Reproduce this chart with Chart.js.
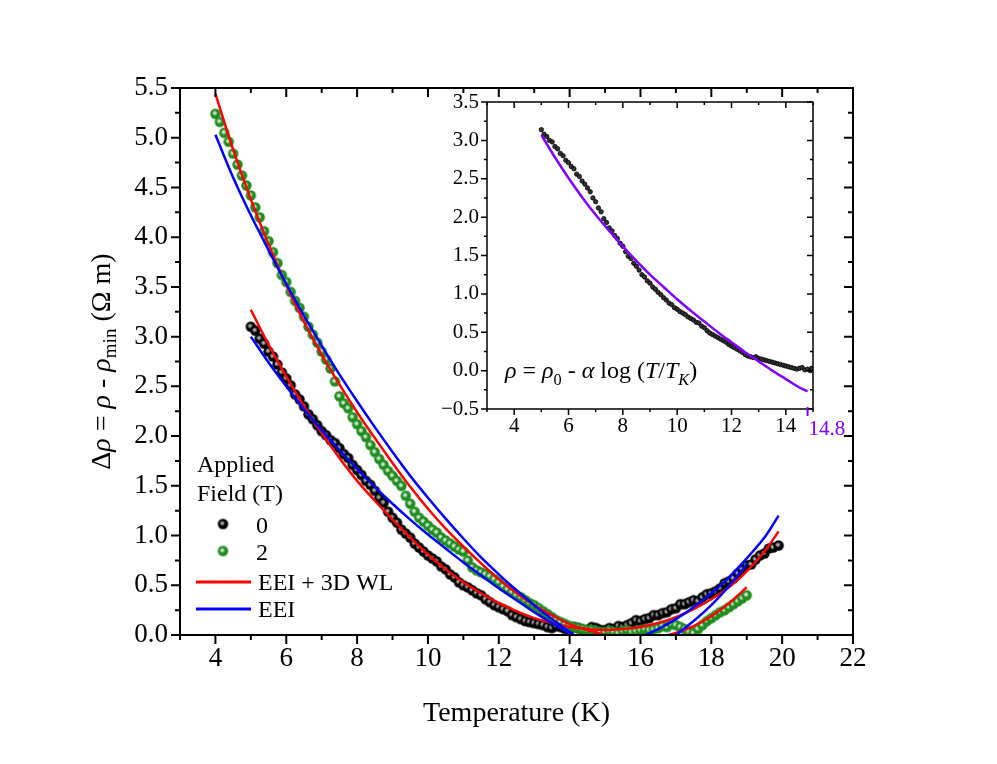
<!DOCTYPE html>
<html>
<head>
<meta charset="utf-8">
<script src="https://cdn.jsdelivr.net/npm/chart.js@4.4.1/dist/chart.umd.min.js"></script>
<style>
  body { margin: 0; background: #fff; }
  #wrap { position: relative; width: 997px; height: 764px; }
  #main { position: absolute; left: 0; top: 0; }
  #inset { position: absolute; left: 400px; top: 80px; }
</style>
</head>
<body>
<div id="wrap">
  <canvas id="main" width="997" height="764"></canvas>
  <canvas id="inset" width="480" height="380"></canvas>
</div>
<script>
// ---- main panel: measured data (0 T) ----
const temp0 = [5.0,5.125,5.25,5.375,5.5,5.625,5.75,5.875,6.0,6.125,6.25,6.375,6.5,6.625,6.75,6.875,
  7.0,7.125,7.25,7.375,7.5,7.625,7.75,7.875,8.0,8.125,8.25,8.375,8.5,8.625,8.75,8.875,
  9.0,9.125,9.25,9.375,9.5,9.625,9.75,9.875,10.0,10.125,10.25,10.375,10.5,10.625,10.75,10.875,
  11.0,11.125,11.25,11.375,11.5,11.625,11.75,11.875,12.0,12.125,12.25,12.375,12.5,12.625,12.75,12.875,
  13.0,13.125,13.25,13.375,13.5,13.625,13.75,13.875,14.0,14.125,14.25,14.375,14.5,14.625,14.75,14.875,
  15.0,15.125,15.25,15.375,15.5,15.625,15.75,15.875,16.0,16.125,16.25,16.375,16.5,16.625,16.75,16.875,
  17.0,17.125,17.25,17.375,17.5,17.625,17.75,17.875,18.0,18.125,18.25,18.375,18.5,18.625,18.75,18.875,
  19.0,19.125,19.25,19.375,19.5,19.625,19.75,19.9];
const rho0 = [3.10,3.06,2.98,2.93,2.85,2.80,2.72,2.64,2.58,2.51,2.42,2.37,2.30,2.22,2.17,2.11,
  2.05,2.01,1.96,1.93,1.88,1.82,1.78,1.71,1.66,1.61,1.55,1.51,1.45,1.38,1.33,1.24,
  1.18,1.13,1.06,1.02,0.98,0.92,0.88,0.84,0.80,0.77,0.74,0.69,0.66,0.61,0.58,0.53,
  0.50,0.48,0.45,0.42,0.40,0.36,0.33,0.30,0.28,0.26,0.24,0.20,0.18,0.16,0.14,0.13,
  0.12,0.11,0.10,0.08,0.07,0.09,0.08,0.06,0.06,0.08,0.07,0.05,0.05,0.08,0.07,0.05,
  0.05,0.07,0.06,0.09,0.08,0.10,0.12,0.15,0.14,0.16,0.17,0.20,0.20,0.22,0.23,0.26,
  0.27,0.31,0.31,0.33,0.35,0.34,0.38,0.41,0.42,0.44,0.47,0.52,0.54,0.57,0.62,0.66,
  0.70,0.71,0.76,0.80,0.82,0.87,0.88,0.90];

// ---- main panel: measured data (2 T) ----
const temp2 = [4.0,4.125,4.25,4.375,4.5,4.625,4.75,4.875,5.0,5.125,5.25,5.375,5.5,5.625,5.75,5.875,
  6.0,6.125,6.25,6.375,6.5,6.625,6.75,6.875,7.0,7.125,7.25,7.375,7.5,7.625,7.75,7.875,
  8.0,8.125,8.25,8.375,8.5,8.625,8.75,8.875,9.0,9.125,9.25,9.375,9.5,9.625,9.75,9.875,
  10.0,10.125,10.25,10.375,10.5,10.625,10.75,10.875,11.0,11.125,11.25,11.375,11.5,11.625,11.75,11.875,
  12.0,12.125,12.25,12.375,12.5,12.625,12.75,12.875,13.0,13.125,13.25,13.375,13.5,13.625,13.75,13.875,
  14.0,14.125,14.25,14.375,14.5,14.625,14.75,14.875,15.0,15.125,15.25,15.375,15.5,15.625,15.75,15.875,
  16.0,16.125,16.25,16.375,16.5,16.625,16.75,16.875,17.0,17.125,17.25,17.375,17.5,17.625,17.75,17.875,
  18.0,18.125,18.25,18.375,18.5,18.625,18.75,18.875,19.0];
const rho2 = [5.24,5.16,5.05,4.96,4.84,4.73,4.62,4.52,4.42,4.30,4.20,4.06,3.96,3.85,3.74,3.62,
  3.55,3.45,3.36,3.29,3.20,3.10,3.02,2.94,2.85,2.77,2.68,2.55,2.40,2.33,2.28,2.19,
  2.12,2.05,1.99,1.91,1.84,1.77,1.71,1.65,1.60,1.55,1.50,1.40,1.32,1.24,1.18,1.14,
  1.10,1.06,1.03,0.98,0.95,0.92,0.89,0.86,0.84,0.75,0.68,0.65,0.63,0.61,0.59,0.56,
  0.53,0.49,0.46,0.43,0.40,0.38,0.35,0.32,0.30,0.27,0.24,0.21,0.18,0.15,0.13,0.11,
  0.09,0.08,0.07,0.06,0.05,0.05,0.04,0.03,0.03,0.04,0.03,0.02,0.04,0.05,0.03,0.04,
  0.05,0.06,0.05,0.06,0.07,0.09,0.08,0.11,0.10,0.08,0.06,0.03,0.02,0.06,0.10,0.14,
  0.17,0.20,0.23,0.25,0.28,0.31,0.34,0.37,0.40];

// ---- main panel: fits ----
const fitTemp0 = [5.0,5.5,6.0,6.5,7.0,7.5,8.0,8.5,9.0,9.5,10.0,10.5,11.0,11.5,12.0,12.5,13.0,13.5,14.0,14.5,
  15.0,15.5,16.0,16.5,17.0,17.5,18.0,18.5,19.0,19.5,19.9];
const eeiWl0 = [3.27,2.92,2.60,2.30,2.03,1.78,1.55,1.35,1.16,0.98,0.81,0.66,0.53,0.42,0.32,0.24,0.17,0.12,0.08,0.06,
  0.05,0.06,0.08,0.12,0.18,0.26,0.36,0.48,0.64,0.84,1.04];
const eei0 = [3.00,2.74,2.50,2.27,2.06,1.86,1.67,1.49,1.32,1.16,1.01,0.87,0.73,0.60,0.47,0.35,0.23,0.12,0.02,-0.05,
  -0.08,-0.07,-0.02,0.06,0.16,0.28,0.42,0.58,0.77,0.98,1.20];

const fitTemp2 = [4.0,4.5,5.0,5.5,6.0,6.5,7.0,7.5,8.0,8.5,9.0,9.5,10.0,10.5,11.0,11.5,12.0,12.5,13.0,13.5,
  14.0,14.5,15.0,15.5,16.0,16.5,17.0,17.5,18.0,18.5,19.0];
const eeiWl2 = [5.44,4.88,4.38,3.93,3.52,3.15,2.82,2.52,2.24,1.98,1.73,1.49,1.27,1.07,0.89,0.72,0.56,0.42,0.30,0.20,
  0.11,0.05,0.00,-0.03,-0.04,-0.02,0.02,0.09,0.19,0.32,0.48];
const eei2 = [5.03,4.60,4.22,3.87,3.53,3.21,2.91,2.62,2.35,2.09,1.84,1.60,1.38,1.17,0.97,0.78,0.61,0.45,0.30,0.16,
  0.03,-0.08,-0.16,-0.20,-0.19,-0.12,0.00,0.14,0.30,0.49,0.71];

// ---- inset: 0 T data and log fit ----
const insetTemp = [5.0,5.1,5.2,5.3,5.4,5.5,5.6,5.7,5.8,5.9,6.0,6.1,6.2,6.3,6.4,6.5,6.6,6.7,6.8,6.9,
  7.0,7.1,7.2,7.3,7.4,7.5,7.6,7.7,7.8,7.9,8.0,8.1,8.2,8.3,8.4,8.5,8.6,8.7,8.8,8.9,
  9.0,9.1,9.2,9.3,9.4,9.5,9.6,9.7,9.8,9.9,10.0,10.1,10.2,10.3,10.4,10.5,10.6,10.7,10.8,10.9,
  11.0,11.1,11.2,11.3,11.4,11.5,11.6,11.7,11.8,11.9,12.0,12.1,12.2,12.3,12.4,12.5,12.6,12.7,12.8,12.9,
  13.0,13.1,13.2,13.3,13.4,13.5,13.6,13.7,13.8,13.9,14.0,14.1,14.2,14.3,14.4,14.5,14.6,14.7,14.8,14.9,14.95];
const insetRho = [3.14,3.08,3.05,3.00,2.98,2.92,2.89,2.83,2.80,2.74,2.71,2.66,2.63,2.56,2.53,2.47,2.43,2.38,2.33,2.25,
  2.20,2.12,2.07,1.98,1.93,1.86,1.82,1.76,1.72,1.66,1.62,1.55,1.49,1.46,1.40,1.36,1.31,1.25,1.22,1.17,
  1.14,1.09,1.06,1.02,0.99,0.95,0.92,0.88,0.86,0.82,0.80,0.77,0.75,0.73,0.70,0.68,0.66,0.63,0.62,0.58,
  0.56,0.52,0.49,0.47,0.45,0.43,0.41,0.39,0.37,0.34,0.32,0.30,0.28,0.26,0.24,0.21,0.19,0.18,0.17,0.18,
  0.16,0.15,0.14,0.13,0.12,0.11,0.10,0.09,0.08,0.07,0.06,0.05,0.04,0.03,0.02,0.03,0.04,0.01,0.02,0.00,0.03];
const kondoTemp = [5.0,5.5,6.0,6.5,7.0,7.5,8.0,8.5,9.0,9.5,10.0,10.5,11.0,11.5,12.0,12.5,13.0,13.5,14.0,14.5,14.8];
const kondoRho = [3.07,2.78,2.51,2.26,2.03,1.82,1.62,1.43,1.25,1.09,0.93,0.78,0.64,0.50,0.37,0.24,0.12,0.00,-0.11,-0.22,-0.27];

// tick labels
const mainXLabels = [4,6,8,10,12,14,16,18,20,22];
const insetXLabels = [4,6,8,10,12,14];
const kondoMarkT = 14.8;

const SERIF = "'Liberation Serif', 'Times New Roman', serif";
const RED = '#ff0000', BLUE = '#0000ff', GREEN = '#1e8c1e', PURPLE = '#8000ff';

function pairs(xs, ys) { return xs.map((x, i) => ({ x: x, y: ys[i] })); }

function makeBall(color, r, glow) {
  const c = document.createElement('canvas');
  const s = Math.ceil(r * 2 + 2);
  c.width = c.height = s;
  const g = c.getContext('2d');
  const m = s / 2;
  g.fillStyle = color;
  g.beginPath(); g.arc(m, m, r, 0, Math.PI * 2); g.fill();
  const grad = g.createRadialGradient(m - 0.7, m - 0.7, 0, m - 0.7, m - 0.7, r * 0.55);
  grad.addColorStop(0, 'rgba(255,255,255,' + glow + ')');
  grad.addColorStop(0.45, 'rgba(255,255,255,' + glow * 0.7 + ')');
  grad.addColorStop(1, 'rgba(255,255,255,0)');
  g.fillStyle = grad;
  g.beginPath(); g.arc(m, m, r, 0, Math.PI * 2); g.fill();
  return c;
}
const ballBlack = makeBall('#000', 5.2, 0.8);
const ballGreen = makeBall(GREEN, 5.2, 0.95);

function isMajor(v, step) {
  const q = v / step;
  return Math.abs(q - Math.round(q)) < 1e-6;
}

// frame: outward ticks bottom/left, mirrored inward ticks top/right
function axisFrame(o) {
  return {
    id: 'axisFrame',
    afterDatasetsDraw(chart) {
      const { ctx, chartArea: a } = chart;
      const xs = chart.scales.x, ys = chart.scales.y;
      ctx.save();
      ctx.strokeStyle = '#000';
      ctx.lineWidth = o.lineWidth;
      ctx.beginPath();
      for (let i = 0; ; i++) {
        const v = xs.min + i * o.xMinor;
        if (v > xs.max + 1e-9) break;
        const len = isMajor(v, o.xMajor) ? o.major : o.minor;
        const px = xs.getPixelForValue(v);
        ctx.moveTo(px, a.bottom); ctx.lineTo(px, a.bottom + len);
        ctx.moveTo(px, a.top); ctx.lineTo(px, a.top + len);
      }
      for (let i = 0; ; i++) {
        const v = ys.min + i * o.yMinor;
        if (v > ys.max + 1e-9) break;
        const len = isMajor(v, o.yMajor) ? o.major : o.minor;
        const py = ys.getPixelForValue(v);
        ctx.moveTo(a.left, py); ctx.lineTo(a.left - len, py);
        ctx.moveTo(a.right, py); ctx.lineTo(a.right - len, py);
      }
      ctx.stroke();
      ctx.strokeRect(a.left, a.top, a.right - a.left, a.bottom - a.top);
      ctx.restore();
    }
  };
}

function richWidth(ctx, parts, size) {
  let w = 0;
  for (const p of parts) {
    const s = p.sub ? size * 0.68 : size;
    ctx.font = (p.it ? 'italic ' : '') + s + 'px ' + SERIF;
    w += ctx.measureText(p.t).width;
  }
  return w;
}
function drawRich(ctx, parts, x, y, size) {
  let cx = x;
  for (const p of parts) {
    const s = p.sub ? size * 0.68 : size;
    ctx.font = (p.it ? 'italic ' : '') + s + 'px ' + SERIF;
    ctx.fillText(p.t, cx, y + (p.sub ? size * 0.3 : 0));
    cx += ctx.measureText(p.t).width;
  }
}

const yTitle = [
  { t: '\u0394' }, { t: '\u03c1', it: true }, { t: ' = ' }, { t: '\u03c1', it: true }, { t: ' - ' },
  { t: '\u03c1', it: true }, { t: 'min', sub: true }, { t: ' (\u03a9 m)' }
];
const kondoText = [
  { t: '\u03c1', it: true }, { t: ' = ' }, { t: '\u03c1', it: true }, { t: '0', sub: true }, { t: ' - ' },
  { t: '\u03b1', it: true }, { t: ' log (' }, { t: 'T', it: true }, { t: '/' }, { t: 'T', it: true },
  { t: 'K', it: true, sub: true }, { t: ')' }
];

const mainText = {
  id: 'mainText',
  afterDraw(chart) {
    const { ctx, chartArea: a } = chart;
    ctx.save();
    ctx.fillStyle = '#000';
    ctx.textBaseline = 'middle';
    ctx.font = '28px ' + SERIF;
    ctx.textAlign = 'center';
    ctx.fillText('Temperature (K)', (a.left + a.right) / 2, 714);
    ctx.textAlign = 'left';
    ctx.save();
    ctx.translate(103, (a.top + a.bottom) / 2);
    ctx.rotate(-Math.PI / 2);
    const w = richWidth(ctx, yTitle, 28);
    drawRich(ctx, yTitle, -w / 2, 0, 28);
    ctx.restore();

    // legend
    const lx = a.left + 17;
    ctx.font = '24px ' + SERIF;
    ctx.textBaseline = 'alphabetic';
    ctx.fillText('Applied', lx, 472);
    ctx.fillText('Field (T)', lx, 501);
    ctx.drawImage(ballBlack, 223 - ballBlack.width / 2, 524 - ballBlack.height / 2);
    ctx.drawImage(ballGreen, 223 - ballGreen.width / 2, 551 - ballGreen.height / 2);
    ctx.fillText('0', 256, 533);
    ctx.fillText('2', 256, 560);
    ctx.lineWidth = 3;
    ctx.strokeStyle = RED;
    ctx.beginPath(); ctx.moveTo(196, 582); ctx.lineTo(251, 582); ctx.stroke();
    ctx.strokeStyle = BLUE;
    ctx.beginPath(); ctx.moveTo(196, 609); ctx.lineTo(251, 609); ctx.stroke();
    ctx.fillText('EEI + 3D WL', 258, 590);
    ctx.fillText('EEI', 258, 617);
    ctx.restore();
  }
};

const insetText = {
  id: 'insetText',
  afterDraw(chart) {
    const { ctx, chartArea: a } = chart;
    const xs = chart.scales.x;
    ctx.save();
    ctx.fillStyle = '#000';
    ctx.textBaseline = 'alphabetic';
    drawRich(ctx, kondoText, a.left + 18, 298, 24);
    const px = xs.getPixelForValue(kondoMarkT);
    ctx.strokeStyle = PURPLE;
    ctx.lineWidth = 2;
    ctx.beginPath(); ctx.moveTo(px, a.bottom - 2); ctx.lineTo(px, a.bottom + 7); ctx.stroke();
    ctx.fillStyle = PURPLE;
    ctx.font = '21px ' + SERIF;
    ctx.textBaseline = 'middle';
    ctx.fillText(String(kondoMarkT), px + 1, a.bottom + 20);
    ctx.restore();
  }
};

function lineSet(xs, ys, color) {
  return { data: pairs(xs, ys), showLine: true, borderColor: color, borderWidth: 2.5,
           pointRadius: 0, tension: 0.3, order: 1 };
}

new Chart(document.getElementById('main'), {
  type: 'scatter',
  data: {
    datasets: [
      { data: pairs(temp0, rho0), pointStyle: ballBlack, pointRadius: 5, order: 3 },
      { data: pairs(temp2, rho2), pointStyle: ballGreen, pointRadius: 5, order: 2 },
      lineSet(fitTemp0, eei0, BLUE),
      lineSet(fitTemp2, eei2, BLUE),
      lineSet(fitTemp0, eeiWl0, RED),
      lineSet(fitTemp2, eeiWl2, RED)
    ]
  },
  options: {
    responsive: false,
    animation: false,
    layout: { padding: { left: 0, right: 144, top: 88, bottom: 0 } },
    plugins: { legend: { display: false }, tooltip: { enabled: false } },
    scales: {
      x: {
        type: 'linear', min: 3, max: 22,
        afterFit: s => { s.height = 129; },
        grid: { display: false, drawTicks: false },
        border: { display: false },
        ticks: {
          stepSize: 1, autoSkip: false, maxRotation: 0, padding: 8, color: '#000',
          font: { family: SERIF, size: 27 },
          callback: v => mainXLabels.includes(v) ? String(v) : ''
        }
      },
      y: {
        type: 'linear', min: 0, max: 5.5,
        afterFit: s => { s.width = 180; },
        grid: { display: false, drawTicks: false },
        border: { display: false },
        ticks: {
          stepSize: 0.5, padding: 12, color: '#000',
          font: { family: SERIF, size: 27 },
          callback: v => v.toFixed(1)
        }
      }
    }
  },
  plugins: [axisFrame({ lineWidth: 2, xMinor: 1, xMajor: 2, yMinor: 0.25, yMajor: 0.5, major: 9, minor: 5 }), mainText]
});

new Chart(document.getElementById('inset'), {
  type: 'scatter',
  data: {
    datasets: [
      { data: pairs(insetTemp, insetRho), pointRadius: 2.2, backgroundColor: '#333', borderColor: '#000',
        borderWidth: 0.8, order: 2 },
      { data: pairs(kondoTemp, kondoRho), showLine: true, borderColor: PURPLE, borderWidth: 2.5,
        pointRadius: 0, tension: 0.3, order: 1 }
    ]
  },
  options: {
    responsive: false,
    animation: false,
    layout: { padding: { left: 0, right: 67, top: 22, bottom: 0 } },
    plugins: { legend: { display: false }, tooltip: { enabled: false } },
    scales: {
      x: {
        type: 'linear', min: 3, max: 15,
        afterFit: s => { s.height = 51; },
        grid: { display: false, drawTicks: false },
        border: { display: false },
        ticks: {
          stepSize: 1, autoSkip: false, maxRotation: 0, padding: 5, color: '#000',
          font: { family: SERIF, size: 21 },
          callback: v => insetXLabels.includes(v) ? String(v) : ''
        }
      },
      y: {
        type: 'linear', min: -0.5, max: 3.5,
        afterFit: s => { s.width = 87; },
        grid: { display: false, drawTicks: false },
        border: { display: false },
        ticks: {
          stepSize: 0.5, padding: 8, color: '#000',
          font: { family: SERIF, size: 21 },
          callback: v => (v < 0 ? '\u2212' : '') + Math.abs(v).toFixed(1)
        }
      }
    }
  },
  plugins: [axisFrame({ lineWidth: 1.5, xMinor: 1, xMajor: 2, yMinor: 0.25, yMajor: 0.5, major: 6, minor: 3 }), insetText]
});
</script>
</body>
</html>
